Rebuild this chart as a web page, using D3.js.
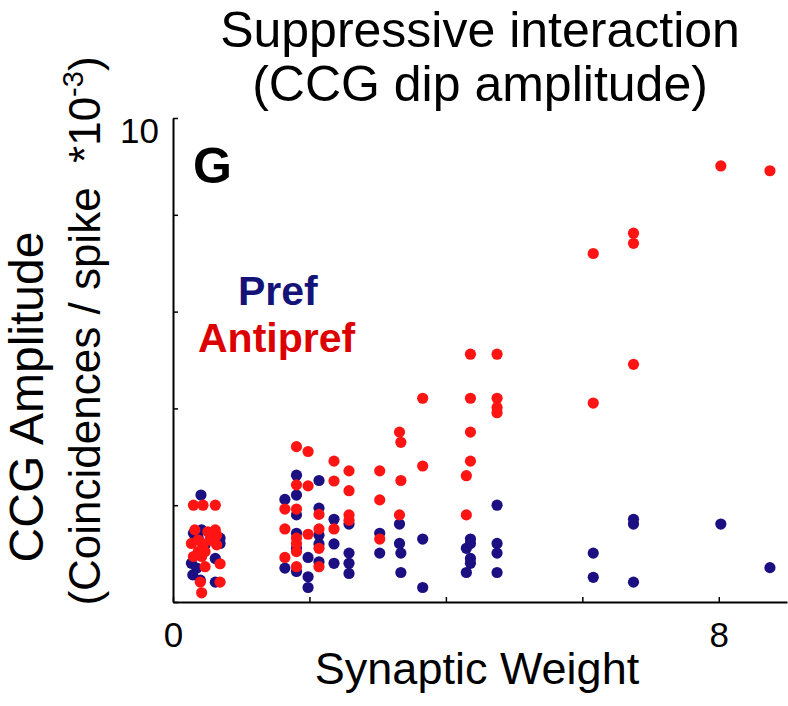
<!DOCTYPE html>
<html><head><meta charset="utf-8">
<script src="https://cdn.jsdelivr.net/npm/d3@7"></script>
<style>body{margin:0;background:#fff}svg{display:block}text{font-family:"Liberation Sans",Arial,Helvetica,sans-serif}</style>
</head><body><svg id="c" width="788" height="706"></svg>
<script>
const titleLines = ["Suppressive interaction", "(CCG dip amplitude)"];
const xLabel = "Synaptic Weight";
const yLabel1 = "CCG Amplitude";
const yLabel2 = "(Coincidences / spike \u00a0*10";
const xTicks = [0, 2, 4, 6, 8];
const xTickLabels = {0: "0", 8: "8"};
const yTicks = [0, 2, 4, 6, 8, 10];
const yTickLabels = {10: "10"};
const seriesNames = ["Pref", "Antipref"];

const prefX = [0.41,0.30,0.42,0.69,0.37,0.69,0.27,0.62,0.35,0.40,0.62,0.47,0.29,
  1.81,2.14,1.64,1.81,1.81,2.14,2.58,2.36,2.14,1.81,1.81,2.14,2.36,2.58,2.58,2.58,2.36,1.98,1.64,1.81,2.14,1.98,1.98,
  3.32,3.03,3.66,4.36,4.36,3.32,4.75,4.30,3.03,3.34,4.75,4.36,4.36,3.34,4.30,4.75,3.66,4.75,
  6.75,6.75,8.03,6.16,8.75,6.16,6.75];
const prefY = [2.21,1.42,1.49,1.32,1.32,1.21,0.80,0.90,0.70,0.45,0.41,1.18,0.56,
  2.62,2.51,2.12,2.21,1.80,1.94,1.61,1.71,1.38,1.42,1.11,1.20,1.20,1.01,0.80,0.59,0.80,0.92,0.70,0.63,0.83,0.52,0.30,
  1.61,1.42,1.30,1.30,1.21,1.21,1.21,1.11,1.01,1.01,1.01,0.90,0.80,0.61,0.61,0.61,0.30,2.00,
  1.71,1.61,1.61,1.01,0.71,0.51,0.41];

const antiX = [0.30,0.44,0.62,0.32,0.62,0.64,0.27,0.44,0.54,0.64,0.37,0.47,0.30,0.42,0.69,0.47,0.40,0.69,0.42,0.51,0.37,
  1.81,1.98,2.36,2.58,1.81,1.98,2.36,2.58,1.64,1.81,2.14,2.58,2.58,1.64,2.36,2.14,1.98,1.81,1.81,2.14,1.81,1.64,1.81,2.14,
  4.36,4.75,3.66,4.36,4.75,4.75,4.75,3.32,3.34,4.36,3.03,3.34,3.66,4.36,4.30,3.03,3.32,4.30,3.03,
  8.03,8.75,6.75,6.75,6.16,6.75,6.16];
const antiY = [2.00,2.00,2.00,1.49,1.49,1.38,1.21,1.18,1.28,1.18,1.04,1.04,0.94,0.94,0.79,0.73,0.41,0.41,0.19,1.45,1.28,
  3.21,3.11,2.91,2.71,2.42,2.40,2.50,2.30,1.92,1.92,1.81,1.80,1.69,1.51,1.51,1.51,1.40,1.32,1.21,1.11,1.04,0.92,0.73,0.73,
  5.12,5.12,4.21,4.21,4.21,4.02,3.91,3.51,3.30,3.51,2.71,2.51,2.81,2.91,2.61,2.11,1.80,1.80,1.30,
  9.01,8.91,7.62,7.41,7.20,4.91,4.11];

const svg = d3.select("#c");
const x = d3.scaleLinear().domain([0, 9]).range([173, 787]);
const y = d3.scaleLinear().domain([0, 10]).range([602, 118]);

// axes
const xAxis = d3.axisBottom(x).tickValues(xTicks).tickSizeInner(-5).tickSizeOuter(0).tickPadding(20)
  .tickFormat(d => xTickLabels[d] || "");
const gx = svg.append("g").attr("transform", "translate(0,602)").call(xAxis);
gx.select(".domain").attr("stroke", "#000").attr("stroke-width", 2);
gx.selectAll(".tick line").attr("stroke", "#000").attr("stroke-width", 1.5);
gx.selectAll(".tick text").attr("font-size", 35).attr("fill", "#000").attr("dy", "0.72em");

const yAxis = d3.axisLeft(y).tickValues(yTicks).tickSizeInner(-5).tickSizeOuter(0).tickPadding(14)
  .tickFormat(d => yTickLabels[d] || "");
const gy = svg.append("g").attr("transform", "translate(173,0)").call(yAxis);
gy.select(".domain").attr("stroke", "#000").attr("stroke-width", 2);
gy.selectAll(".tick line").attr("stroke", "#000").attr("stroke-width", 1.5);
gy.selectAll(".tick text").attr("font-size", 35).attr("fill", "#000").attr("dy", "0.7em");

// points
const prefData = prefX.map((v, i) => [v, prefY[i]]);
const antiData = antiX.map((v, i) => [v, antiY[i]]);
svg.append("g").selectAll("circle").data(prefData).join("circle")
  .attr("cx", d => x(d[0])).attr("cy", d => y(d[1])).attr("r", 5.6).attr("fill", "#1b0f82");
svg.append("g").selectAll("circle").data(antiData).join("circle")
  .attr("cx", d => x(d[0])).attr("cy", d => y(d[1])).attr("r", 5.6).attr("fill", "#ff1414");

// titles
svg.append("text").attr("x", 480).attr("y", 47).attr("text-anchor", "middle").attr("font-size", 50).text(titleLines[0]);
svg.append("text").attr("x", 480).attr("y", 101).attr("text-anchor", "middle").attr("font-size", 50).text(titleLines[1]);
svg.append("text").attr("x", 477).attr("y", 684).attr("text-anchor", "middle").attr("font-size", 45).text(xLabel);

svg.append("text").attr("transform", "translate(43,397) rotate(-90)").attr("text-anchor", "middle").attr("font-size", 48).text(yLabel1);
const t2 = svg.append("text").attr("transform", "translate(100,331) rotate(-90)").attr("text-anchor", "middle").attr("font-size", 44);
t2.append("tspan").text(yLabel2);
t2.append("tspan").attr("font-size", 29).attr("dy", -17).text("-3");
t2.append("tspan").attr("dy", 17).text(")");

svg.append("text").attr("x", 193).attr("y", 183).attr("font-size", 50).attr("font-weight", "bold").text("G");
svg.append("text").attr("x", 238).attr("y", 305).attr("font-size", 41).attr("font-weight", "bold").attr("fill", "#141478").text(seriesNames[0]);
svg.append("text").attr("x", 198).attr("y", 352).attr("font-size", 41).attr("font-weight", "bold").attr("fill", "#dd0000").text(seriesNames[1]);
</script></body></html>
